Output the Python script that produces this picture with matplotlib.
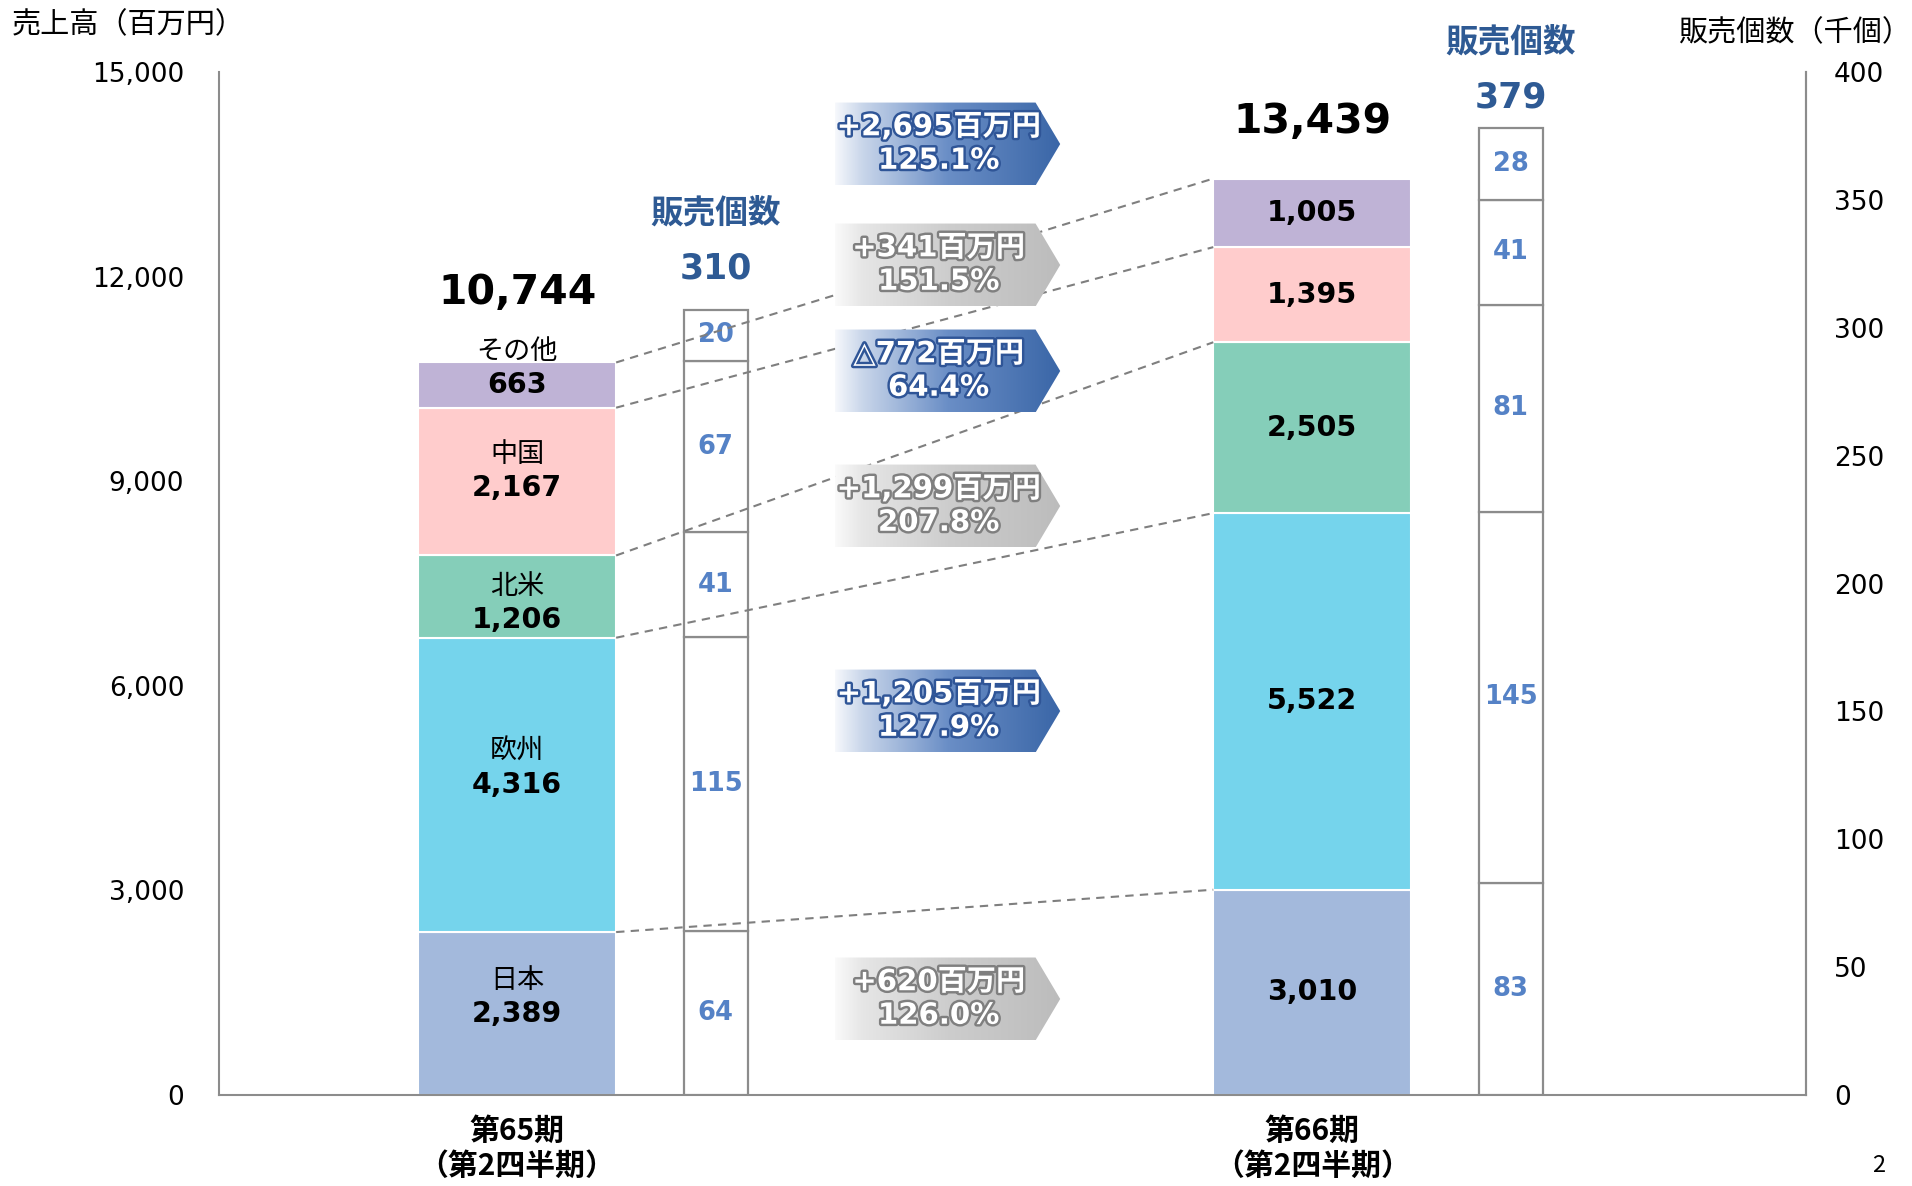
import matplotlib
matplotlib.use("Agg")
import matplotlib.pyplot as plt
import matplotlib.patheffects as pe
from matplotlib.patches import Polygon
from matplotlib.colors import to_rgb
import numpy as np

plt.rcParams['font.family'] = ['DejaVu Sans', 'Noto Sans CJK JP']

# ---------------- data ----------------
periods = ["第65期\n（第2四半期）", "第66期\n（第2四半期）"]
regions = ["日本", "欧州", "北米", "中国", "その他"]
sales_65 = [2389, 4316, 1206, 2167, 663]
sales_66 = [3010, 5522, 2505, 1395, 1005]
units_65 = [64, 115, 41, 67, 20]
units_66 = [83, 145, 81, 41, 28]
sales_totals = ["10,744", "13,439"]
unit_totals = ["310", "379"]
change_text = [
    "+620百万円\n126.0%",
    "+1,205百万円\n127.9%",
    "+1,299百万円\n207.8%",
    "△772百万円\n64.4%",
    "+341百万円\n151.5%",
    "+2,695百万円\n125.1%",
]
yticks_left = [0, 3000, 6000, 9000, 12000, 15000]
yticks_right = [0, 50, 100, 150, 200, 250, 300, 350, 400]

# ---------------- style ----------------
seg_colors = ["#A3B9DC", "#75D4EC", "#85CEB9", "#FFCCCC", "#BFB3D6"]
grid_gray = "#8C8C8C"
dark_blue = "#2E5A94"
unit_blue = "#5582C6"
arrow_kind = ["gray", "blue", "gray", "blue", "gray", "blue"]
arrow_yc = [1408, 5630, 8636, 10616, 12170, 13944]   # layout (sales-axis units)
value_dy = [0, 0, -16.5, -4.3, 0]                     # points
total_dy = [50, 41]
unit_total_dy = [30, 22]

W, H = 1912, 1186
fig = plt.figure(figsize=(W / 100, H / 100), dpi=100)
rect = [219 / W, 1 - 1095 / H, (1806 - 219) / W, (1095 - 72) / H]
ax = fig.add_axes(rect)

x = np.arange(len(periods))
bar_w = 0.249
ux_off = 0.2495
ux_w = 0.0805
xlim = (-0.375, 1.621)

sales = np.array([sales_65, sales_66])
units = np.array([units_65, units_66])

# stacked sales bars
bottom = np.zeros(len(periods))
for i in range(len(regions)):
    ax.bar(x, sales[:, i], bar_w, bottom=bottom, color=seg_colors[i],
           edgecolor="white", linewidth=1.5, zorder=2)
    bottom += sales[:, i]
sales_cum = np.cumsum(sales, axis=1)

ax.set_xlim(*xlim)
ax.set_ylim(0, 15000)
ax.set_yticks(yticks_left)
ax.set_yticklabels([f"{v:,}" for v in yticks_left], fontsize=19,
                   family=["DejaVu Sans"])
ax.set_xticks(x)
ax.set_xticklabels(periods, fontsize=21.5, fontweight="bold", linespacing=1.2,
                   family=["Noto Sans CJK JP"])
ax.tick_params(axis="y", length=0, pad=25)
ax.tick_params(axis="x", length=0, pad=15)
for s in ["left", "bottom", "right"]:
    ax.spines[s].set_color(grid_gray)
    ax.spines[s].set_linewidth(1.5)
ax.spines["top"].set_visible(False)

# segment labels (first period: name + value, second: value)
for j in range(len(periods)):
    for i in range(len(regions)):
        v = sales[j, i]
        yc = sales_cum[j, i] - v / 2
        dy = value_dy[i] if j == 0 else 0
        ax.annotate(f"{v:,}", (x[j], yc), xytext=(0, dy), textcoords="offset points",
                    ha="center", va="center", fontsize=20.5, fontweight="bold",
                    color="black", zorder=5)
        if j == 0:
            ax.annotate(regions[i], (x[j], yc), xytext=(0, dy + 24),
                        textcoords="offset points", ha="center", va="center",
                        fontsize=19.5, color="black", zorder=5,
                        family=["Noto Sans CJK JP"])
    ax.annotate(sales_totals[j], (x[j], sales_cum[j, -1]), xytext=(0, total_dy[j]),
                textcoords="offset points", ha="center", va="center",
                fontsize=29.5, fontweight="bold", color="black")

# unit bars on right axis
ax2 = ax.twinx()
ax2.set_ylim(0, 400)
ax2.set_xlim(*xlim)
bottom = np.zeros(len(periods))
for i in range(len(regions)):
    ax2.bar(x + ux_off, units[:, i], ux_w, bottom=bottom, color="white",
            edgecolor=grid_gray, linewidth=1.6, zorder=2)
    for j in range(len(periods)):
        ax2.text(x[j] + ux_off, bottom[j] + units[j, i] / 2, f"{units[j, i]}",
                 ha="center", va="center", fontsize=18.5, fontweight="bold",
                 color=unit_blue, zorder=5)
    bottom += units[:, i]
for j in range(len(periods)):
    ax2.annotate(unit_totals[j], (x[j] + ux_off, bottom[j]), xytext=(0, unit_total_dy[j]),
                 textcoords="offset points", ha="center", va="center",
                 fontsize=25, fontweight="bold", color=dark_blue)
    ax2.annotate("販売個数", (x[j] + ux_off, bottom[j]), xytext=(0, unit_total_dy[j] + 40),
                 textcoords="offset points", ha="center", va="center",
                 fontsize=23.5, fontweight="bold", color=dark_blue,
                 family=["Noto Sans CJK JP"])
ax2.set_yticks(yticks_right)
ax2.set_yticklabels([str(v) for v in yticks_right], fontsize=19,
                    family=["DejaVu Sans"])
ax2.tick_params(axis="y", length=0, pad=20)
for s in ["left", "bottom", "top"]:
    ax2.spines[s].set_visible(False)
ax2.spines["right"].set_color(grid_gray)
ax2.spines["right"].set_linewidth(1.5)

# overlay for connector lines and change arrows
ax3 = fig.add_axes(rect, zorder=3)
ax3.patch.set_visible(False)
ax3.axis("off")
for i in range(len(regions)):
    ax3.plot([x[0] + bar_w / 2, x[1] - bar_w / 2], [sales_cum[0, i], sales_cum[1, i]],
             linestyle=(0, (4, 3)), color="#7F7F7F", linewidth=1.5, zorder=2)

stops_t = [0.0, 0.12, 0.5, 1.0]
grad_stops = {
    "blue": ["#F6F8FC", "#C9D6EA", "#6A8EC6", "#3A66A7"],
    "gray": ["#FAFAFA", "#E6E6E6", "#CDCDCD", "#BCBCBC"],
}
stroke = {"blue": "#2F5597", "gray": "#7F7F7F"}
xl, xn, xt = 0.40, 0.652, 0.683
hh = 608
tt = np.linspace(0, 1, 256)
for k, (label, yc) in enumerate(zip(change_text, arrow_yc)):
    kind = arrow_kind[k]
    cols = np.array([to_rgb(c) for c in grad_stops[kind]])
    img = np.stack([np.interp(tt, stops_t, cols[:, c]) for c in range(3)], axis=-1)[None, :, :]
    verts = [(xl, yc - hh), (xn, yc - hh), (xt, yc), (xn, yc + hh), (xl, yc + hh)]
    poly = Polygon(verts, closed=True, facecolor="none", edgecolor="none", zorder=4)
    ax3.add_patch(poly)
    im = ax3.imshow(img, extent=[xl, xt, yc - hh, yc + hh], aspect="auto",
                    origin="lower", zorder=4, interpolation="bilinear")
    im.set_clip_path(poly)
    ax3.text((xl + xn) / 2 + 0.004, yc, label, ha="center", va="center", color="white",
             fontsize=21, fontweight="bold", linespacing=1.25, zorder=5,
             path_effects=[pe.withStroke(linewidth=3.5, foreground=stroke[kind])])
ax3.set_xlim(*xlim)
ax3.set_ylim(0, 15000)

# axis titles and page number
fig.text(12 / W, 1 - 25 / H, "売上高（百万円）", ha="left", va="center", fontsize=21,
         family=["Noto Sans CJK JP"])
fig.text(1911 / W, 1 - 33 / H, "販売個数（千個）", ha="right", va="center", fontsize=21,
         family=["Noto Sans CJK JP"])
fig.text(1879 / W, 1 - 1165 / H, "2", ha="center", va="center", fontsize=17,
         family=["Noto Sans CJK JP"])

fig.savefig("out.png", dpi=100)
